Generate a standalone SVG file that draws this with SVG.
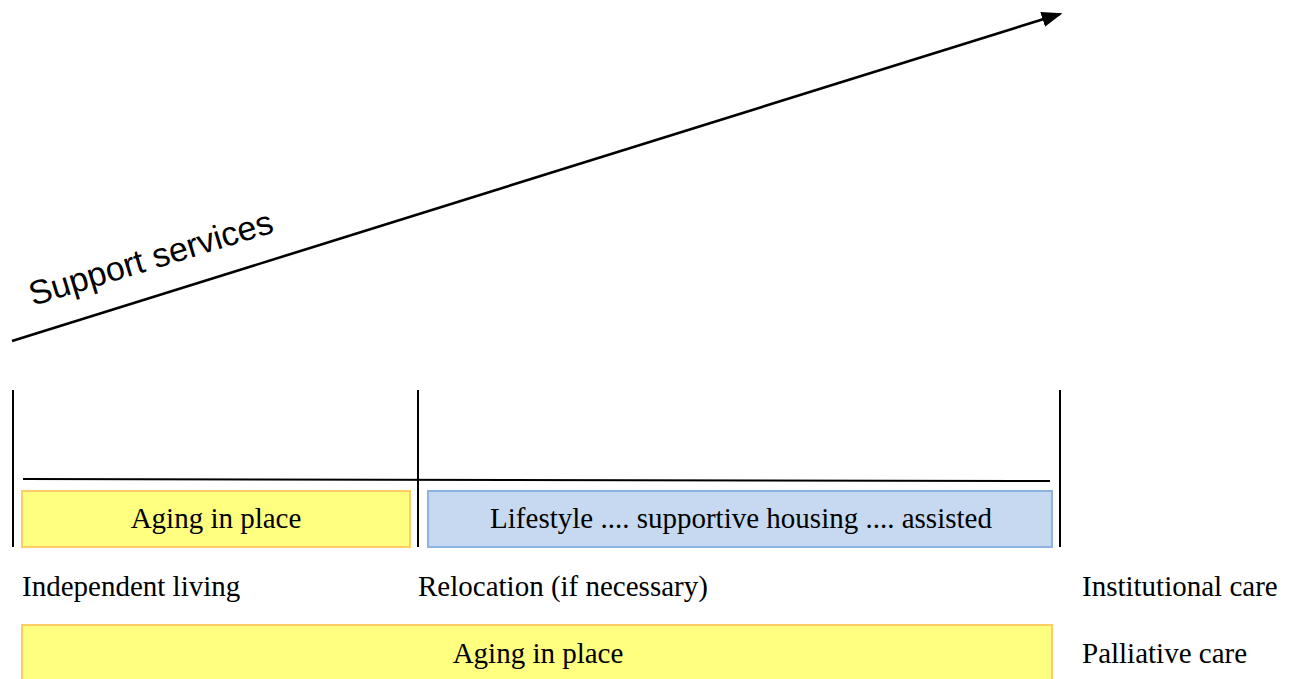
<svg xmlns="http://www.w3.org/2000/svg" width="1292" height="679" viewBox="0 0 1292 679">
<style>
.serif{font-family:"Liberation Serif","Times New Roman",serif;font-size:29px;fill:#000}
.sans{font-family:"Liberation Sans",Arial,sans-serif;font-size:34px;fill:#000}
.yel{fill:#ffff80;stroke:#ffcc66;stroke-width:2}
.blu{fill:#c6d9f1;stroke:#8db3e2;stroke-width:2}
.ln{stroke:#000;stroke-width:2;fill:none}
</style>
<defs>
<marker id="ah" markerWidth="8" markerHeight="6" refX="7" refY="3" orient="auto" markerUnits="strokeWidth">
<path d="M0,0 L8,3 L0,6 Z" fill="#000"/>
</marker>
</defs>
<g id="connectors">
<line x1="12" y1="341" x2="1060" y2="14" stroke="#000" stroke-width="2.6" marker-end="url(#ah)"/>
<line class="ln" x1="13" y1="390" x2="13" y2="547"/>
<line class="ln" x1="418" y1="390" x2="418" y2="547"/>
<line class="ln" x1="1060" y1="390" x2="1060" y2="547"/>
<line class="ln" x1="23" y1="479" x2="1050" y2="481"/>
</g>
<g id="support-label">
<text class="sans" transform="translate(33,306) rotate(-17)">Support services</text>
</g>
<g id="aging-in-place-1">
<rect class="yel" x="22" y="491" width="388" height="56"/>
<text class="serif" x="216" y="528" text-anchor="middle">Aging in place</text>
</g>
<g id="lifestyle">
<rect class="blu" x="428" y="491" width="624" height="56"/>
<text class="serif" x="741" y="528" text-anchor="middle">Lifestyle .... supportive housing .... assisted</text>
</g>
<g id="independent-living"><text class="serif" x="22" y="596">Independent living</text></g>
<g id="relocation"><text class="serif" x="418" y="596">Relocation (if necessary)</text></g>
<g id="institutional-care"><text class="serif" x="1082" y="596">Institutional care</text></g>
<g id="aging-in-place-2">
<rect class="yel" x="22" y="625" width="1030" height="70"/>
<text class="serif" x="538" y="663" text-anchor="middle">Aging in place</text>
</g>
<g id="palliative-care"><text class="serif" x="1082" y="663">Palliative care</text></g>
</svg>
